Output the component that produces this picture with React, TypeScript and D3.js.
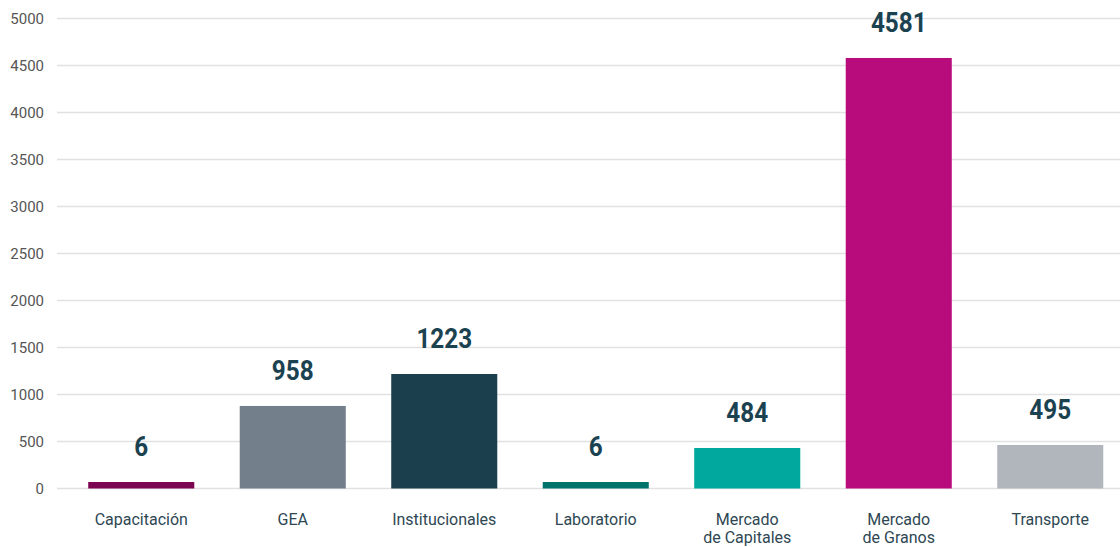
import React from "react";
import * as d3 from "d3";

const categories = ["Capacitación", "GEA", "Institucionales", "Laboratorio", "Mercado\nde Capitales", "Mercado\nde Granos", "Transporte"];
const barValues = [69, 878, 1218, 69, 431, 4580, 463];
const valueLabels = ["6", "958", "1223", "6", "484", "4581", "495"];
const barColors = ["#7c0552", "#73808b", "#1b3f4d", "#00736b", "#00a89e", "#b90c7c", "#b1b5bc"];
const yTicks = [0, 500, 1000, 1500, 2000, 2500, 3000, 3500, 4000, 4500, 5000];

const W = 1120;
const H = 547;

export default function App() {
  const x = d3.scaleBand<number>().domain(d3.range(categories.length)).range([65.5, 1126]).paddingInner(0.3).paddingOuter(0.15);
  const y = d3.scaleLinear().domain([0, 5000]).range([488.5, 18.5]);

  return (
    <svg width={W} height={H} style={{ position: "absolute", left: 0, top: 0, background: "#fff" }}>
      <g>
        {yTicks.map((t) => (
          <g key={t}>
            <line x1={57} x2={W} y1={y(t)} y2={y(t)} stroke="#e1e1e1" strokeWidth={1.3} />
            <text x={44} y={y(t)} dy="0.35em" textAnchor="end" fontFamily="Roboto" fontSize={15} fill="#555">
              {t}
            </text>
          </g>
        ))}
      </g>
      <g>
        {barValues.map((v, i) => (
          <rect key={i} x={x(i)} y={y(v)} width={x.bandwidth()} height={y(0) - y(v)} fill={barColors[i]} />
        ))}
      </g>
      <g>
        {valueLabels.map((l, i) => {
          const cx = (x(i) as number) + x.bandwidth() / 2;
          return (
            <text key={i} transform={`translate(${cx},${y(barValues[i]) - 26}) scale(0.9,1)`} textAnchor="middle" fontFamily="Roboto" fontWeight={700} fontSize={27} fill="#1b4250">
              {l}
            </text>
          );
        })}
      </g>
      <g>
        {categories.map((c, i) => {
          const cx = (x(i) as number) + x.bandwidth() / 2;
          return (
            <text key={i} x={cx} y={525} textAnchor="middle" fontFamily="Roboto" fontSize={16} fill="#2e4753">
              {c.split("\n").map((line, j) => (
                <tspan key={j} x={cx} dy={j === 0 ? 0 : 18}>
                  {line}
                </tspan>
              ))}
            </text>
          );
        })}
      </g>
    </svg>
  );
}
